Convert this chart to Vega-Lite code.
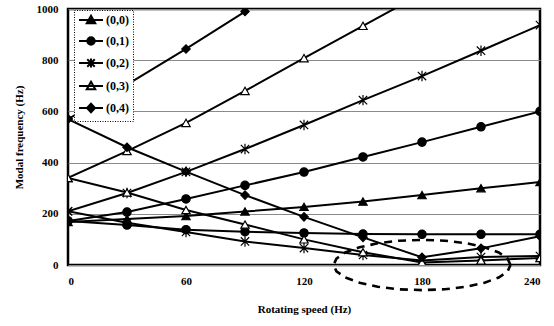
{
  "$schema": "https://vega.github.io/schema/vega-lite/v6.json",
  "width": 472,
  "height": 256,
  "autosize": {"type": "none"},
  "padding": {"left": 68, "top": 9, "right": 14, "bottom": 61},
  "background": "white",
  "config": {
    "view": {"stroke": "black", "strokeWidth": 2.5},
    "font": "Liberation Serif",
    "axis": {
      "labelFont": "Liberation Serif", "labelFontWeight": "bold", "labelFontSize": 11, "labelColor": "black",
      "titleFont": "Liberation Serif", "titleFontWeight": "bold", "titleFontSize": 11, "titleColor": "black",
      "domain": false, "ticks": false
    }
  },
  "datasets": {
    "curves": [
      {"mode": "(0,0)", "branch": "f", "speed": 0, "freq": 168},
      {"mode": "(0,0)", "branch": "f", "speed": 30, "freq": 180},
      {"mode": "(0,0)", "branch": "f", "speed": 60, "freq": 191},
      {"mode": "(0,0)", "branch": "f", "speed": 90, "freq": 209},
      {"mode": "(0,0)", "branch": "f", "speed": 120, "freq": 227},
      {"mode": "(0,0)", "branch": "f", "speed": 150, "freq": 248},
      {"mode": "(0,0)", "branch": "f", "speed": 180, "freq": 273},
      {"mode": "(0,0)", "branch": "f", "speed": 210, "freq": 300},
      {"mode": "(0,0)", "branch": "f", "speed": 240, "freq": 324},

      {"mode": "(0,1)", "branch": "f", "speed": 0, "freq": 172},
      {"mode": "(0,1)", "branch": "f", "speed": 30, "freq": 207},
      {"mode": "(0,1)", "branch": "f", "speed": 60, "freq": 258},
      {"mode": "(0,1)", "branch": "f", "speed": 90, "freq": 311},
      {"mode": "(0,1)", "branch": "f", "speed": 120, "freq": 363},
      {"mode": "(0,1)", "branch": "f", "speed": 150, "freq": 422},
      {"mode": "(0,1)", "branch": "f", "speed": 180, "freq": 480},
      {"mode": "(0,1)", "branch": "f", "speed": 210, "freq": 540},
      {"mode": "(0,1)", "branch": "f", "speed": 240, "freq": 600},
      {"mode": "(0,1)", "branch": "b", "speed": 0, "freq": 172},
      {"mode": "(0,1)", "branch": "b", "speed": 30, "freq": 156},
      {"mode": "(0,1)", "branch": "b", "speed": 60, "freq": 138},
      {"mode": "(0,1)", "branch": "b", "speed": 90, "freq": 130},
      {"mode": "(0,1)", "branch": "b", "speed": 120, "freq": 125},
      {"mode": "(0,1)", "branch": "b", "speed": 150, "freq": 121},
      {"mode": "(0,1)", "branch": "b", "speed": 180, "freq": 120},
      {"mode": "(0,1)", "branch": "b", "speed": 210, "freq": 120},
      {"mode": "(0,1)", "branch": "b", "speed": 240, "freq": 120},

      {"mode": "(0,2)", "branch": "f", "speed": 0, "freq": 210},
      {"mode": "(0,2)", "branch": "f", "speed": 30, "freq": 281},
      {"mode": "(0,2)", "branch": "f", "speed": 60, "freq": 364},
      {"mode": "(0,2)", "branch": "f", "speed": 90, "freq": 453},
      {"mode": "(0,2)", "branch": "f", "speed": 120, "freq": 547},
      {"mode": "(0,2)", "branch": "f", "speed": 150, "freq": 644},
      {"mode": "(0,2)", "branch": "f", "speed": 180, "freq": 738},
      {"mode": "(0,2)", "branch": "f", "speed": 210, "freq": 837},
      {"mode": "(0,2)", "branch": "f", "speed": 240, "freq": 937},
      {"mode": "(0,2)", "branch": "b", "speed": 0, "freq": 210},
      {"mode": "(0,2)", "branch": "b", "speed": 30, "freq": 165},
      {"mode": "(0,2)", "branch": "b", "speed": 60, "freq": 129},
      {"mode": "(0,2)", "branch": "b", "speed": 90, "freq": 92},
      {"mode": "(0,2)", "branch": "b", "speed": 120, "freq": 66},
      {"mode": "(0,2)", "branch": "b", "speed": 150, "freq": 39},
      {"mode": "(0,2)", "branch": "b", "speed": 180, "freq": 18},
      {"mode": "(0,2)", "branch": "b", "speed": 210, "freq": 31},
      {"mode": "(0,2)", "branch": "b", "speed": 240, "freq": 35},

      {"mode": "(0,3)", "branch": "f", "speed": 0, "freq": 340},
      {"mode": "(0,3)", "branch": "f", "speed": 30, "freq": 445},
      {"mode": "(0,3)", "branch": "f", "speed": 60, "freq": 555},
      {"mode": "(0,3)", "branch": "f", "speed": 90, "freq": 680},
      {"mode": "(0,3)", "branch": "f", "speed": 120, "freq": 808},
      {"mode": "(0,3)", "branch": "f", "speed": 150, "freq": 934},
      {"mode": "(0,3)", "branch": "f", "speed": 180, "freq": 1060},
      {"mode": "(0,3)", "branch": "b", "speed": 0, "freq": 340},
      {"mode": "(0,3)", "branch": "b", "speed": 30, "freq": 283},
      {"mode": "(0,3)", "branch": "b", "speed": 60, "freq": 215},
      {"mode": "(0,3)", "branch": "b", "speed": 90, "freq": 158},
      {"mode": "(0,3)", "branch": "b", "speed": 120, "freq": 100},
      {"mode": "(0,3)", "branch": "b", "speed": 150, "freq": 50},
      {"mode": "(0,3)", "branch": "b", "speed": 180, "freq": 10},
      {"mode": "(0,3)", "branch": "b", "speed": 210, "freq": 18},
      {"mode": "(0,3)", "branch": "b", "speed": 240, "freq": 27},

      {"mode": "(0,4)", "branch": "f", "speed": 0, "freq": 570},
      {"mode": "(0,4)", "branch": "f", "speed": 30, "freq": 705},
      {"mode": "(0,4)", "branch": "f", "speed": 60, "freq": 844},
      {"mode": "(0,4)", "branch": "f", "speed": 90, "freq": 990},
      {"mode": "(0,4)", "branch": "b", "speed": 0, "freq": 570},
      {"mode": "(0,4)", "branch": "b", "speed": 30, "freq": 460},
      {"mode": "(0,4)", "branch": "b", "speed": 60, "freq": 365},
      {"mode": "(0,4)", "branch": "b", "speed": 90, "freq": 273},
      {"mode": "(0,4)", "branch": "b", "speed": 120, "freq": 188},
      {"mode": "(0,4)", "branch": "b", "speed": 150, "freq": 108},
      {"mode": "(0,4)", "branch": "b", "speed": 180, "freq": 30},
      {"mode": "(0,4)", "branch": "b", "speed": 210, "freq": 65},
      {"mode": "(0,4)", "branch": "b", "speed": 240, "freq": 112}
    ],
    "ellipse": [
      {"i": 0, "speed": 225, "freq": 0},
      {"i": 1, "speed": 223.5, "freq": 25},
      {"i": 2, "speed": 219, "freq": 49},
      {"i": 3, "speed": 211.8, "freq": 69},
      {"i": 4, "speed": 202.5, "freq": 85},
      {"i": 5, "speed": 191.6, "freq": 95},
      {"i": 6, "speed": 180, "freq": 98},
      {"i": 7, "speed": 168.4, "freq": 95},
      {"i": 8, "speed": 157.5, "freq": 85},
      {"i": 9, "speed": 148.2, "freq": 69},
      {"i": 10, "speed": 141, "freq": 49},
      {"i": 11, "speed": 136.5, "freq": 25},
      {"i": 12, "speed": 135, "freq": 0},
      {"i": 13, "speed": 136.5, "freq": -25},
      {"i": 14, "speed": 141, "freq": -49},
      {"i": 15, "speed": 148.2, "freq": -69},
      {"i": 16, "speed": 157.5, "freq": -85},
      {"i": 17, "speed": 168.4, "freq": -95},
      {"i": 18, "speed": 180, "freq": -98},
      {"i": 19, "speed": 191.6, "freq": -95},
      {"i": 20, "speed": 202.5, "freq": -85},
      {"i": 21, "speed": 211.8, "freq": -69},
      {"i": 22, "speed": 219, "freq": -49},
      {"i": 23, "speed": 223.5, "freq": -25},
      {"i": 24, "speed": 225, "freq": 0}
    ]
  },
  "encoding": {
    "x": {
      "field": "speed", "type": "quantitative",
      "scale": {"domain": [0, 240], "nice": false, "zero": false},
      "axis": {"title": "Rotating speed (Hz)", "values": [0, 60, 120, 180, 240], "grid": false, "labelPadding": 10, "titlePadding": 17}
    },
    "y": {
      "field": "freq", "type": "quantitative",
      "scale": {"domain": [0, 1000], "nice": false},
      "axis": {"title": "Modal frequency (Hz)", "values": [0, 200, 400, 600, 800, 1000], "format": "d", "grid": true, "gridColor": "#8a8a8a", "gridWidth": 1, "labelPadding": 10, "titlePadding": 12}
    }
  },
  "layer": [
    {
      "data": {"name": "curves"},
      "mark": {"type": "line", "color": "black", "strokeWidth": 2, "clip": true},
      "encoding": {
        "detail": [{"field": "mode"}, {"field": "branch"}],
        "order": {"field": "speed", "type": "quantitative"}
      }
    },
    {
      "data": {"name": "curves"},
      "mark": {"type": "point", "filled": true, "stroke": "black", "strokeWidth": 1.2, "size": 70, "opacity": 1, "clip": true},
      "encoding": {
        "shape": {
          "field": "mode", "type": "nominal",
          "scale": {"domain": ["(0,0)", "(0,1)", "(0,2)", "(0,3)", "(0,4)"], "range": ["triangle-up", "circle", "M-1,-1L1,1M-1,1L1,-1M0,-1.25V1.25", "triangle-up", "diamond"]},
          "legend": null
        },
        "fill": {
          "field": "mode", "type": "nominal",
          "scale": {"domain": ["(0,0)", "(0,1)", "(0,2)", "(0,3)", "(0,4)"], "range": ["black", "black", "black", "white", "black"]},
          "legend": null
        }
      }
    },
    {
      "data": {"name": "curves"},
      "mark": {"type": "point", "filled": true, "stroke": "black", "strokeWidth": 2, "opacity": 0, "clip": true},
      "encoding": {
        "shape": {
          "field": "mode", "type": "nominal",
          "scale": {"domain": ["(0,0)", "(0,1)", "(0,2)", "(0,3)", "(0,4)"], "range": [
            "M-1,0H3.8M1.4,-0.85L2.25,0.65L0.55,0.65Z",
            "M-1,0H3.8M2.15,0A0.75,0.75 0 1,1 0.65,0A0.75,0.75 0 1,1 2.15,0Z",
            "M-1,0H3.8M0.65,-0.75L2.15,0.75M0.65,0.75L2.15,-0.75M1.4,-0.9V0.9",
            "M-1,0H3.8M1.4,-0.85L2.25,0.65L0.55,0.65Z",
            "M-1,0H3.8M1.4,-0.85L2.2,0L1.4,0.85L0.6,0Z"
          ]},
          "legend": {
            "title": null, "orient": "none", "legendX": 6, "legendY": 1,
            "padding": 4, "rowPadding": 5, "labelOffset": 16, "symbolSize": 100,
            "symbolStrokeColor": "black", "symbolStrokeWidth": 2, "symbolOpacity": 1,
            "strokeColor": "black", "fillColor": "white",
            "labelFont": "Liberation Serif", "labelFontWeight": "bold", "labelFontSize": 12, "labelColor": "black",
            "encode": {"legend": {"update": {"strokeDash": {"value": [1, 1.5]}}}}
          }
        },
        "fill": {
          "field": "mode", "type": "nominal",
          "scale": {"domain": ["(0,0)", "(0,1)", "(0,2)", "(0,3)", "(0,4)"], "range": ["black", "black", "black", "white", "black"]},
          "legend": {
            "title": null, "orient": "none", "legendX": 6, "legendY": 1,
            "padding": 4, "rowPadding": 5, "labelOffset": 16, "symbolSize": 100,
            "symbolStrokeColor": "black", "symbolStrokeWidth": 2, "symbolOpacity": 1,
            "strokeColor": "black", "fillColor": "white",
            "labelFont": "Liberation Serif", "labelFontWeight": "bold", "labelFontSize": 12, "labelColor": "black",
            "encode": {"legend": {"update": {"strokeDash": {"value": [1, 1.5]}}}}
          }
        }
      }
    },
    {
      "data": {"name": "ellipse"},
      "mark": {"type": "line", "color": "black", "strokeWidth": 2.6, "strokeDash": [8, 6], "clip": false},
      "encoding": {
        "order": {"field": "i", "type": "quantitative"}
      }
    }
  ],
  "resolve": {"scale": {"shape": "independent", "fill": "independent"}}
}
